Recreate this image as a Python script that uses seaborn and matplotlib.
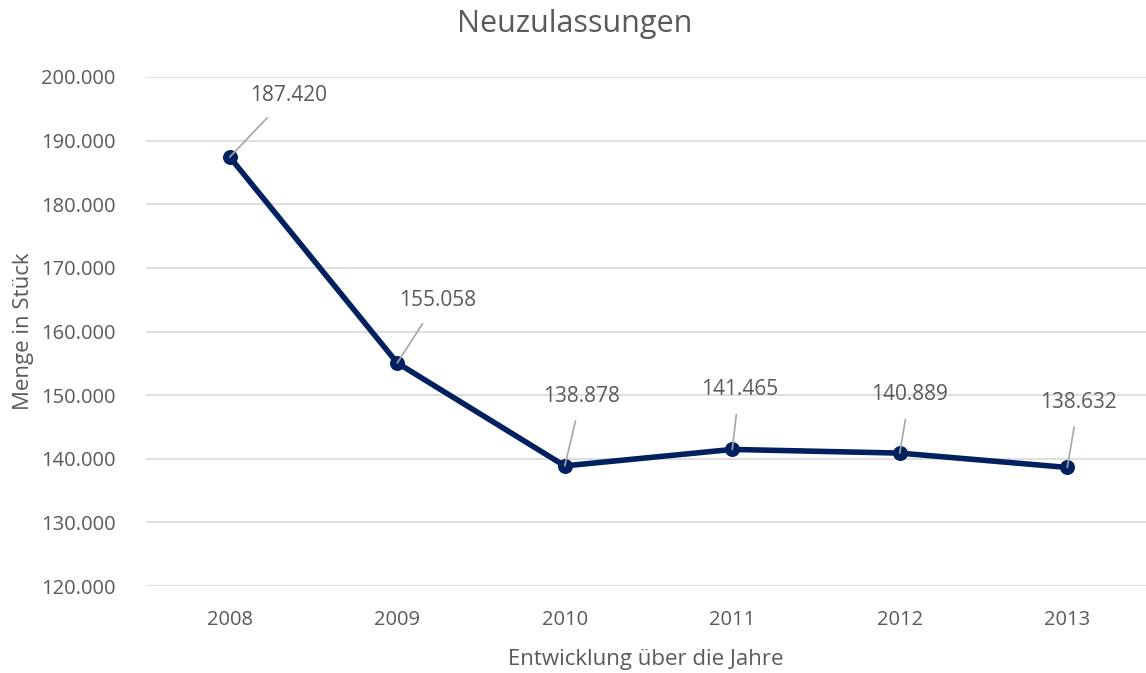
import pandas as pd
import seaborn as sns
import matplotlib.pyplot as plt

years = [2008, 2009, 2010, 2011, 2012, 2013]
zulassungen = [187420, 155058, 138878, 141465, 140889, 138632]
labels = ["187.420", "155.058", "138.878", "141.465", "140.889", "138.632"]
# label offsets in points (rough)
offsets = [(42, 44), (29, 45), (12, 50), (5, 43), (7, 42), (8, 47)]

df = pd.DataFrame({"Jahr": years, "Menge": zulassungen})

sns.set_style("white")
plt.rcParams["font.family"] = ["Open Sans", "DejaVu Sans"]
grau = "#595959"
navy = "#002060"

fig = plt.figure(figsize=(11.46, 6.73), dpi=100)
ax = fig.add_axes([146 / 1146, 1 - 586 / 673, 1000 / 1146, 509 / 673])

sns.lineplot(data=df, x="Jahr", y="Menge", ax=ax, color=navy, linewidth=4,
             marker="o", markersize=10, markeredgecolor=navy, zorder=3)

for x, y, txt, off in zip(years, zulassungen, labels, offsets):
    ax.annotate(txt, xy=(x, y), xytext=off, textcoords="offset points",
                ha="center", va="center", fontsize=15, color=grau,
                arrowprops=dict(arrowstyle="-", color="#a6a6a6", lw=1.2,
                                shrinkA=8, shrinkB=0), zorder=4)

ax.set_xlim(2007.5, 2013.47)
ax.set_ylim(120000, 200000)
ax.set_xticks(years)
ax.set_xticklabels([str(j) for j in years])
yt = list(range(120000, 200001, 10000))
ax.set_yticks(yt)
ax.set_yticklabels([f"{v:,}".replace(",", ".") for v in yt])
ax.tick_params(axis="both", length=0, labelsize=14.5, labelcolor=grau)
ax.tick_params(axis="y", pad=22)
ax.tick_params(axis="x", pad=17)
ax.grid(axis="y", color="#d9d9d9", linewidth=1.2)
ax.set_axisbelow(True)
for s in ax.spines.values():
    s.set_visible(False)

ax.set_xlabel("Entwicklung über die Jahre", fontsize=16, color=grau, labelpad=14)
ax.set_ylabel("Menge in Stück", fontsize=16, color=grau, labelpad=5)
fig.text(575 / 1146, 1 - 24 / 673, "Neuzulassungen", ha="center", va="center",
         fontsize=22, color=grau)

fig.savefig("out.png", dpi=100)
